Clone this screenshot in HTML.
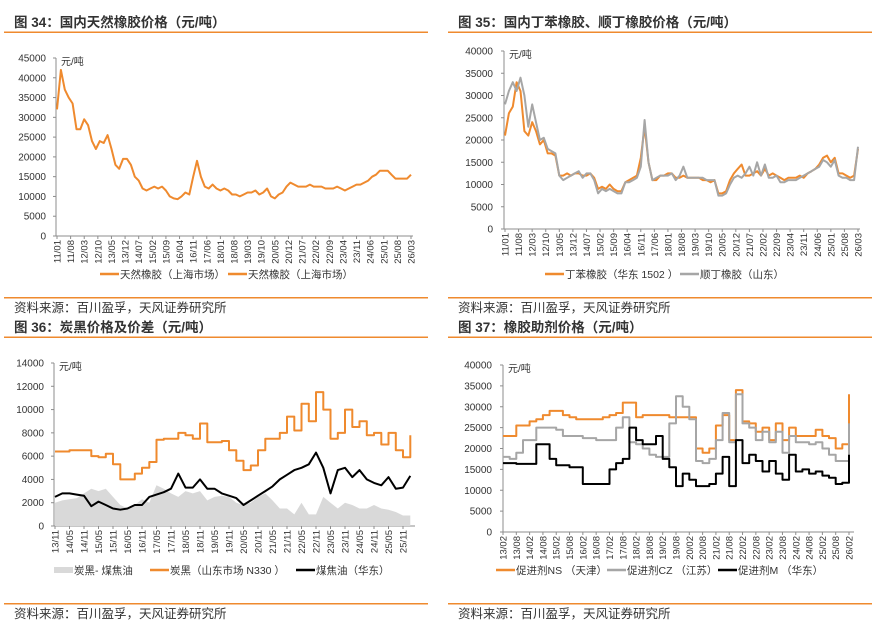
<!DOCTYPE html>
<html><head><meta charset="utf-8">
<style>
html,body{margin:0;padding:0;background:#fff;}
svg{display:block;font-family:"Liberation Sans","Noto Sans CJK SC",sans-serif;}
</style></head>
<body>
<svg id="root" width="884" height="632" viewBox="0 0 884 632" xmlns="http://www.w3.org/2000/svg">
<g>
<text x="14" y="27" font-size="13.5" font-weight="bold" fill="#333">图 34：国内天然橡胶价格（元/吨）</text>
<rect x="4" y="31.5" width="424" height="1.5" fill="#EF8A2E"/>
<rect x="4" y="297" width="424" height="1.5" fill="#EF8A2E"/>
<text x="14" y="312" font-size="12.5" fill="#333">资料来源：百川盈孚，天风证券研究所</text>
</g>
<g>
<text x="458" y="27" font-size="13.5" font-weight="bold" fill="#333">图 35：国内丁苯橡胶、顺丁橡胶价格（元/吨）</text>
<rect x="448" y="31.5" width="424" height="1.5" fill="#EF8A2E"/>
<rect x="448" y="297" width="424" height="1.5" fill="#EF8A2E"/>
<text x="458" y="312" font-size="12.5" fill="#333">资料来源：百川盈孚，天风证券研究所</text>
</g>
<g>
<text x="14" y="332" font-size="13.5" font-weight="bold" fill="#333">图 36：炭黑价格及价差（元/吨）</text>
<rect x="4" y="336.5" width="424" height="1.5" fill="#EF8A2E"/>
<rect x="4" y="603" width="424" height="1.5" fill="#EF8A2E"/>
<text x="14" y="618" font-size="12.5" fill="#333">资料来源：百川盈孚，天风证券研究所</text>
</g>
<g>
<text x="458" y="332" font-size="13.5" font-weight="bold" fill="#333">图 37：橡胶助剂价格（元/吨）</text>
<rect x="448" y="336.5" width="424" height="1.5" fill="#EF8A2E"/>
<rect x="448" y="603" width="424" height="1.5" fill="#EF8A2E"/>
<text x="458" y="618" font-size="12.5" fill="#333">资料来源：百川盈孚，天风证券研究所</text>
</g>
</svg>
<script>
// ---- Chart 34: natural rubber, bi-monthly from 2011/01 ----
const c34Labels = ["11/01","11/08","12/03","12/10","13/05","13/12","14/07","15/02","15/09","16/04","16/11","17/06","18/01","18/08","19/03","19/10","20/05","20/12","21/07","22/02","22/09","23/04","23/11","24/06","25/01","25/08","26/03"];
const c34Ticks = [0,5000,10000,15000,20000,25000,30000,35000,40000,45000];
const c34Rubber = [32000,42000,37000,35000,33500,27000, 27000,29500,28000,24000,22000,24000, 23500,25500,22000,18000,17000,19500, 19500,18000,15000,14000,12000,11500, 12000,12500,12000,12500,11500,10000, 9500,9300,10000,11000,10500,15000, 19000,15000,12500,12000,13000,12000, 11500,12000,11500,10500,10500,10000, 10500,11000,11000,11500,10500,11000, 12000,10000,9500,10500,11000,12500, 13500,13000,12500,12500,12500,13000, 12500,12500,12500,12000,12000,12000, 12500,12000,11500,12000,12500,13000, 13000,13500,14000,15000,15500,16500, 16500,16500,15500,14500,14500,14500, 14500,15500];
// ---- Chart 35: SBR / BR, bi-monthly from 2011/01 ----
const c35Labels = c34Labels;
const c35Ticks = [0,5000,10000,15000,20000,25000,30000,35000,40000];
const c35SBR = [21000,26000,27500,33000,31000,22000, 21000,24000,22000,19000,20000,17000, 17000,16500,12000,12000,12500,12000, 12500,12500,12000,12000,12500,11500, 9000,9500,9000,10000,9000,8500, 8500,10500,11000,11500,12000,16000, 23000,15000,11000,11000,12000,12000, 12500,12500,11500,11500,12000,11500, 11500,11500,11500,11000,11000,10500, 11000,8000,8000,8500,11000,12500, 13500,14500,12000,12000,12500,13000, 12000,13500,12000,12500,12000,11500, 11000,11500,11500,11500,12000,11500, 12500,13000,13500,14500,16000,16500, 15000,16000,12500,12500,12000,11500, 12000,18000];
const c35BR = [28000,31000,33000,31000,34000,30000, 23000,28000,24000,20000,20500,18000, 17500,17000,12000,11000,11500,12000, 12500,13000,11500,12500,12500,11000, 8000,9000,8500,9000,8500,8000, 8000,10500,10500,11000,11500,14000, 24500,15000,11000,11500,12000,12000, 12000,12500,11000,12000,14000,11500, 11500,11500,11500,11500,11000,11000, 11000,7500,7500,8000,10000,11500, 12000,11500,12500,14000,12000,15000, 12000,14500,11500,11500,12000,10500, 10500,11000,11000,11000,11500,12000, 12500,13000,13500,14000,15500,15000, 14000,15500,12000,11500,11500,11000, 11000,18500];
// ---- Chart 36: carbon black, quarterly from 2013/11 ----
const c36Labels = ["13/11","14/05","14/11","15/05","15/11","16/05","16/11","17/05","17/11","18/05","18/11","19/05","19/11","20/05","20/11","21/05","21/11","22/05","22/11","23/05","23/11","24/05","24/11","25/05","25/11"];
const c36Ticks = [0,2000,4000,6000,8000,10000,12000,14000];
const c36CB = [6400,6400,6500,6500,6500,6000,5900,6200,5300,4000,4000,4500,5000,5500,7400,7500,7500,8000,7800,7500,8800,7200,7200,7300,6500,5600,4800,5200,6500,7500,7500,8000,9400,8200,10500,9000,11500,10000,7500,8000,10000,8500,9000,7800,8000,7000,8000,6500,5900,7800];
const c36Tar = [2500,2800,2800,2700,2600,1700,2100,1800,1500,1400,1500,1800,1800,2500,2700,2900,3200,4500,3300,3300,4000,3200,3200,2800,2600,2400,1800,2200,2600,3000,3400,4000,4400,4800,5000,5300,6300,5000,2800,4800,5000,4200,4800,4000,3700,3500,4200,3200,3300,4300];
const c36Spread = [2000,2200,2300,2400,2800,3200,3000,3200,2500,1800,1500,1800,2300,2000,3500,3200,2800,2500,3000,2800,3000,2200,2500,2600,2500,2000,1800,2000,2500,2800,2200,1500,1500,1000,2000,1000,1000,2500,2000,1500,2000,1800,1500,1500,1800,1500,1400,1200,900,900];
// ---- Chart 37: accelerators, quarterly from 2013/02 ----
const c37Labels = ["13/02","13/08","14/02","14/08","15/02","15/08","16/02","16/08","17/02","17/08","18/02","18/08","19/02","19/08","20/02","20/08","21/02","21/08","22/02","22/08","23/02","23/08","24/02","24/08","25/02","25/08","26/02"];
const c37Ticks = [0,5000,10000,15000,20000,25000,30000,35000,40000];
const c37NS = [23000,23000,25500,25500,26500,27000,28000,29000,29000,28000,27500,27000,27000,27000,27000,27500,28000,28500,31000,31000,27500,28000,28000,28000,28000,27500,27500,27500,27500,20000,19000,20000,25500,28000,22000,34000,26500,26000,24000,25000,22000,26000,22000,25000,23000,23000,23000,24500,23000,22500,20000,21000,33000];
const c37CZ = [18000,17500,19000,22000,22000,25000,25000,25000,24500,23000,23000,23000,22500,22500,22000,22000,22000,25000,27500,21500,21000,20000,18500,18000,18000,26000,32500,30000,27000,17000,16500,17500,22000,28500,21500,33000,26000,25000,22000,24000,21500,24000,19000,23000,21500,21500,21000,21500,20000,18500,17000,17000,26000];
const c37M = [16500,16500,16300,16300,16300,21000,21000,17500,16000,16000,15500,15500,11500,11500,11500,11500,15000,16500,17500,25000,22000,21000,21000,23000,17500,15500,11000,14000,12500,11000,11000,11500,14000,18000,11000,22000,16500,18500,17000,14500,17000,14000,12500,18500,14500,15000,14000,14500,13500,13000,11500,11800,18500];

const NS = "http://www.w3.org/2000/svg";
const root = document.getElementById('root');
function el(tag, attrs, parent){const e=document.createElementNS(NS,tag);for(const k in attrs)e.setAttribute(k,attrs[k]);(parent||root).appendChild(e);return e;}

function makeAxes(cfg){
  const g = el('g',{});
  
  
  const ys = v => cfg.y0 - (v - 0) / cfg.yMax * (cfg.y0 - cfg.yTop);
  const xs = m => cfg.xFirst + m * cfg.pxPerMonth;
  const ya = el('line',{x1:cfg.left,y1:cfg.yTop,x2:cfg.left,y2:cfg.y0,stroke:'#8c8c8c','stroke-width':1},g);
  
  
  cfg.ticks.forEach(t=>{
    const y = ys(t);
    const tk = el('line',{x1:cfg.left-3,y1:y,x2:cfg.left,y2:y,stroke:'#8c8c8c','stroke-width':1},g);
    
    
    const tx = el('text',{x:cfg.tickRight,y:y+3.5,'font-size':10,'text-anchor':'end',fill:'#333'},g);
    tx.textContent = t;
    
    
  });
  const unit = el('text',{x:cfg.left+5,y:cfg.yTop+7,'font-size':10,fill:'#333'},g);
  unit.textContent = '元/吨';
  
  
  const xa = el('line',{x1:cfg.left,y1:cfg.y0,x2:cfg.right,y2:cfg.y0,stroke:'#8c8c8c','stroke-width':1},g);
  
  
  cfg.labels.forEach((lab,i)=>{
    const x = xs(i*cfg.labelStep);
    const tk = el('line',{x1:x,y1:cfg.y0,x2:x,y2:cfg.y0+3,stroke:'#8c8c8c','stroke-width':1},g);
    
    
    const tx = el('text',{x:0,y:0,'font-size':9.5,'text-anchor':'end',fill:'#333',transform:`translate(${x+3.5},${cfg.y0+4}) rotate(-90)`},g);
    tx.textContent = lab;
    
    
  });
  return {g, xs, ys};
}
function drawLine(ax, vals, step, color, w, name, stepped){
  let d = '';
  vals.forEach((v,i)=>{
    const x = ax.xs(i*step).toFixed(1), y = ax.ys(v).toFixed(1);
    if(i===0){ d += 'M'+x+','+y; }
    else if(stepped){ d += ' H'+x+' V'+y; }
    else { d += ' L'+x+','+y; }
  });
  const p = el('path',{d:d,fill:'none',stroke:color,'stroke-width':w,'stroke-linejoin':'round'},ax.g);
  
  
}
function drawArea(ax, vals, step, color, name){
  let d = 'M'+ax.xs(0).toFixed(1)+','+ax.ys(0).toFixed(1);
  vals.forEach((v,i)=>{ d += ' L'+ax.xs(i*step).toFixed(1)+','+ax.ys(v).toFixed(1); });
  d += ' L'+ax.xs((vals.length-1)*step).toFixed(1)+','+ax.ys(0).toFixed(1)+' Z';
  const p = el('path',{d:d,fill:color,stroke:'none'},ax.g);
  
  
}
function legend(g, x, y, color, text, name, thick){
  const r = el('rect',{x:x,y:y-(thick?3:1.25),width:19,height:thick?6:2.5,fill:color},g);
  
  
  const t = el('text',{x:x+20,y:y+4,'font-size':10.5,fill:'#333'},g);
  t.textContent = text;
  
  
}

// Chart 34
const a34 = makeAxes({name:'fig34',left:56,right:413,yTop:58,y0:236,yMax:45000,ticks:c34Ticks,tickRight:46,labels:c34Labels,labelStep:7,xFirst:57,pxPerMonth:354/182});
drawLine(a34, c34Rubber, 2, '#EF8A2E', 2, 'natural-rubber-line');
legend(a34.g, 100, 274, '#EF8A2E', '天然橡胶（上海市场）', 'legend-entry-rubber-1');
legend(a34.g, 228, 274, '#EF8A2E', '天然橡胶（上海市场）', 'legend-entry-rubber-2');

// Chart 35
const a35 = makeAxes({name:'fig35',left:504,right:860,yTop:51,y0:229,yMax:40000,ticks:c35Ticks,tickRight:493,labels:c35Labels,labelStep:7,xFirst:505,pxPerMonth:353/182});
drawLine(a35, c35SBR, 2, '#EF8A2E', 2, 'sbr-line');
drawLine(a35, c35BR, 2, '#A6A6A6', 2, 'br-line');
legend(a35.g, 545, 274, '#EF8A2E', '丁苯橡胶（华东 1502 ）', 'legend-entry-sbr');
legend(a35.g, 680, 274, '#A6A6A6', '顺丁橡胶（山东）', 'legend-entry-br');

// Chart 36
const a36 = makeAxes({name:'fig36',left:54,right:415,yTop:363,y0:526,yMax:14000,ticks:c36Ticks,tickRight:44,labels:c36Labels,labelStep:6,xFirst:55,pxPerMonth:348/144});
drawArea(a36, c36Spread, 3, '#D9D9D9', 'spread-area');
drawLine(a36, c36CB, 3, '#EF8A2E', 2, 'carbon-black-line', true);
drawLine(a36, c36Tar, 3, '#000000', 2, 'coal-tar-line');
legend(a36.g, 54, 570, '#D9D9D9', '炭黑- 煤焦油', 'legend-entry-spread', true);
legend(a36.g, 150, 570, '#EF8A2E', '炭黑（山东市场 N330 ）', 'legend-entry-carbon-black');
legend(a36.g, 296, 570, '#000000', '煤焦油（华东）', 'legend-entry-coal-tar');

// Chart 37
const a37 = makeAxes({name:'fig37',left:503,right:854,yTop:365,y0:532,yMax:40000,ticks:c37Ticks,tickRight:492,labels:c37Labels,labelStep:6,xFirst:503,pxPerMonth:346/156});
drawLine(a37, c37NS, 3, '#EF8A2E', 2, 'ns-line', true);
drawLine(a37, c37CZ, 3, '#A6A6A6', 2, 'cz-line', true);
drawLine(a37, c37M, 3, '#000000', 2, 'm-line', true);
legend(a37.g, 496, 570, '#EF8A2E', '促进剂NS （天津）', 'legend-entry-ns');
legend(a37.g, 607, 570, '#A6A6A6', '促进剂CZ （江苏）', 'legend-entry-cz');
legend(a37.g, 718, 570, '#000000', '促进剂M （华东）', 'legend-entry-m');
</script>
</body></html>
